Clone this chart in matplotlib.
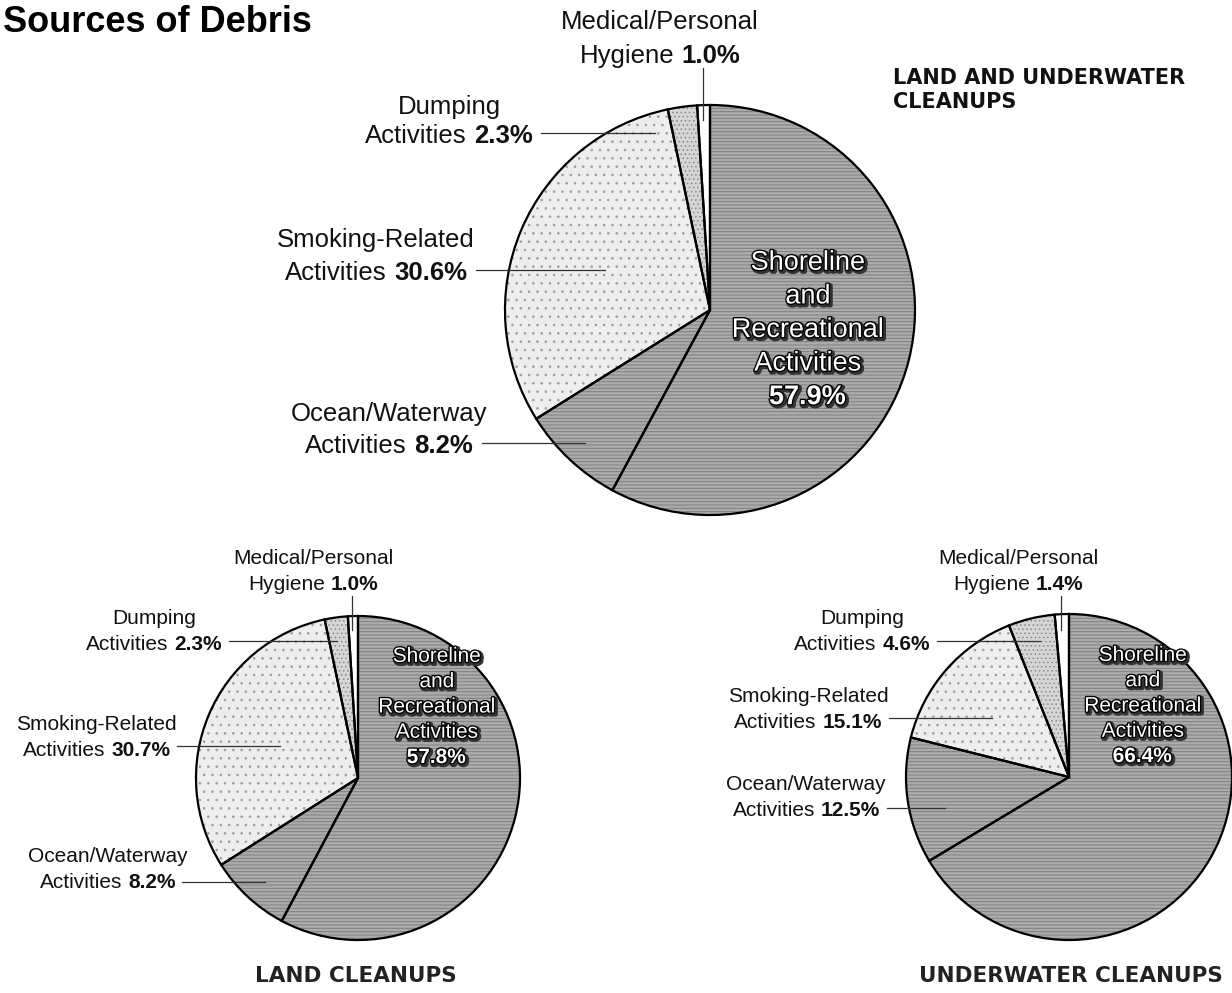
import matplotlib
matplotlib.use('Agg')
import matplotlib.pyplot as plt
import matplotlib.patheffects as pe

plt.rcParams['font.family'] = ['Liberation Sans', 'DejaVu Sans']
plt.rcParams['mathtext.fontset'] = 'custom'
plt.rcParams['mathtext.rm'] = 'Liberation Sans'
plt.rcParams['mathtext.bf'] = 'Liberation Sans:bold'
plt.rcParams['hatch.linewidth'] = 0.6

# ---------------- data ----------------
categories = ["Shoreline and Recreational Activities", "Ocean/Waterway Activities",
              "Smoking-Related Activities", "Dumping Activities",
              "Medical/Personal Hygiene"]
label_heads = ["Shoreline\nand\nRecreational\nActivities", "Ocean/Waterway",
               "Smoking-Related", "Dumping", "Medical/Personal"]
label_tails = ["", "Activities", "Activities", "Activities", "Hygiene"]
all_values = [57.9, 8.2, 30.6, 2.3, 1.0]
land_values = [57.8, 8.2, 30.7, 2.3, 1.0]
underwater_values = [66.4, 12.5, 15.1, 4.6, 1.4]
chart_titles = ["LAND AND UNDERWATER\nCLEANUPS", "LAND CLEANUPS", "UNDERWATER CLEANUPS"]
main_title = "Sources of Debris"

# ---------------- styles ----------------
fills = ['#ababab', '#ababab', '#eeeeee', '#d6d6d6', '#ffffff']
hatches = ['-----', '-----', '..', '....', '']
hatch_cols = ['#7a7a7a', '#7a7a7a', '#9a9a9a', '#8a8a8a', '#ffffff']

W, H = 1232, 993
def Y(y):
    return H - y

fig = plt.figure(figsize=(W / 100, H / 100), dpi=100)
ax = fig.add_axes([0, 0, 1, 1])
ax.set_xlim(0, W)
ax.set_ylim(0, H)
renderer = fig.canvas.get_renderer()


def draw_pie(values, center, radius):
    c = (center[0], Y(center[1]))
    wedges, _ = ax.pie(values, colors=fills, startangle=90, counterclock=False,
                       center=c, radius=radius, wedgeprops=dict(linewidth=0))
    for w, h, hc in zip(wedges, hatches, hatch_cols):
        w.set_hatch(h)
        w.set_edgecolor(hc)
        w.set_linewidth(0)
    ax.pie(values, startangle=90, counterclock=False, center=c, radius=radius,
           wedgeprops=dict(linewidth=1.6, edgecolor='black', facecolor='none'))
    ax.set_xlim(0, W)
    ax.set_ylim(0, H)


def text_width(s, size, weight):
    t = ax.text(0, 0, s, fontsize=size, fontweight=weight)
    w = t.get_window_extent(renderer=renderer).width
    t.remove()
    return w


def label(i, value, x, y1, y2, ha, size, leader):
    px = size * 100 / 72.0
    off = 0.36 * px
    head, tail = label_heads[i], label_tails[i]
    bold = f'{value:.1f}%'
    wn = text_width(tail, size, 'normal')
    wb = text_width(bold, size, 'bold')
    gap = 0.28 * px
    total = wn + gap + wb
    left = x - total if ha == 'right' else x - total / 2
    col = '#111111'
    ax.text(left, Y(y2 + off), tail, ha='left', va='baseline', fontsize=size, color=col)
    ax.text(left + wn + gap, Y(y2 + off), bold, ha='left', va='baseline',
            fontsize=size, fontweight='bold', color=col)
    ax.text(left + total / 2, Y(y1 + off), head, ha='center', va='baseline',
            fontsize=size, color=col)
    (x0, y0), (x1, y1_) = leader
    ax.plot([x0, x1], [Y(y0), Y(y1_)], color='#333333', lw=0.9)


def shore_label(value, x, y, size, ls):
    s = label_heads[0] + '\n' + r'$\mathbf{' + f'{value:.1f}' + r'\%}$'
    ax.text(x, Y(y), s, ha='center', va='center', multialignment='center',
            fontsize=size, linespacing=ls, color='white',
            path_effects=[pe.Stroke(linewidth=3.4, foreground='#333333', offset=(1.2, -1.2)),
                          pe.Stroke(linewidth=1.9, foreground='black'),
                          pe.Normal()])


# ---------- top pie: land and underwater ----------
draw_pie(all_values, (710, 310), 205)
fs = 18.5
label(4, all_values[4], 660, 20, 54, 'center', fs, ((703, 68), (703, 120)))
label(3, all_values[3], 533, 105, 134, 'right', fs, ((541, 133), (655, 133)))
label(2, all_values[2], 467, 238, 271, 'right', fs, ((476, 270), (605, 270)))
label(1, all_values[1], 473, 412, 444, 'right', fs, ((482, 443), (585, 443)))
shore_label(all_values[0], 808, 330, 19.5, 1.38)
ax.text(893, Y(90), chart_titles[0], ha='left', va='center', fontsize=15,
        fontweight='bold', linespacing=1.3, color='#111111', family='DejaVu Sans')

# ---------- bottom-left pie: land ----------
draw_pie(land_values, (358, 778), 162)
fs2 = 15
label(4, land_values[4], 313, 556, 582, 'center', fs2, ((352, 596), (352, 630)))
label(3, land_values[3], 222, 617, 642, 'right', fs2, ((229, 641), (337, 641)))
label(2, land_values[2], 170, 722, 748, 'right', fs2, ((177, 746), (280, 746)))
label(1, land_values[1], 176, 855, 881, 'right', fs2, ((182, 882), (265, 882)))
shore_label(land_values[0], 437, 707, 15, 1.42)
ax.text(356, Y(976), chart_titles[1], ha='center', va='center', fontsize=15.5,
        fontweight='bold', color='#222222', family='DejaVu Sans')

# ---------- bottom-right pie: underwater ----------
draw_pie(underwater_values, (1069, 777), 163)
label(4, underwater_values[4], 1018, 556, 582, 'center', fs2, ((1061, 596), (1061, 630)))
label(3, underwater_values[3], 930, 617, 642, 'right', fs2, ((937, 641), (1040, 641)))
label(2, underwater_values[2], 882, 695, 720, 'right', fs2, ((889, 718), (992, 718)))
label(1, underwater_values[1], 880, 783, 808, 'right', fs2, ((887, 808), (945, 808)))
shore_label(underwater_values[0], 1143, 706, 15, 1.42)
ax.text(1071, Y(976), chart_titles[2], ha='center', va='center', fontsize=15.5,
        fontweight='bold', color='#222222', family='DejaVu Sans')

# ---------- main title ----------
ax.text(3, Y(22), main_title, ha='left', va='center', fontsize=26,
        fontweight='bold', color='black')

ax.set_xlim(0, W)
ax.set_ylim(0, H)
ax.set_aspect('equal')
ax.axis('off')
fig.savefig('out.png', dpi=100)
